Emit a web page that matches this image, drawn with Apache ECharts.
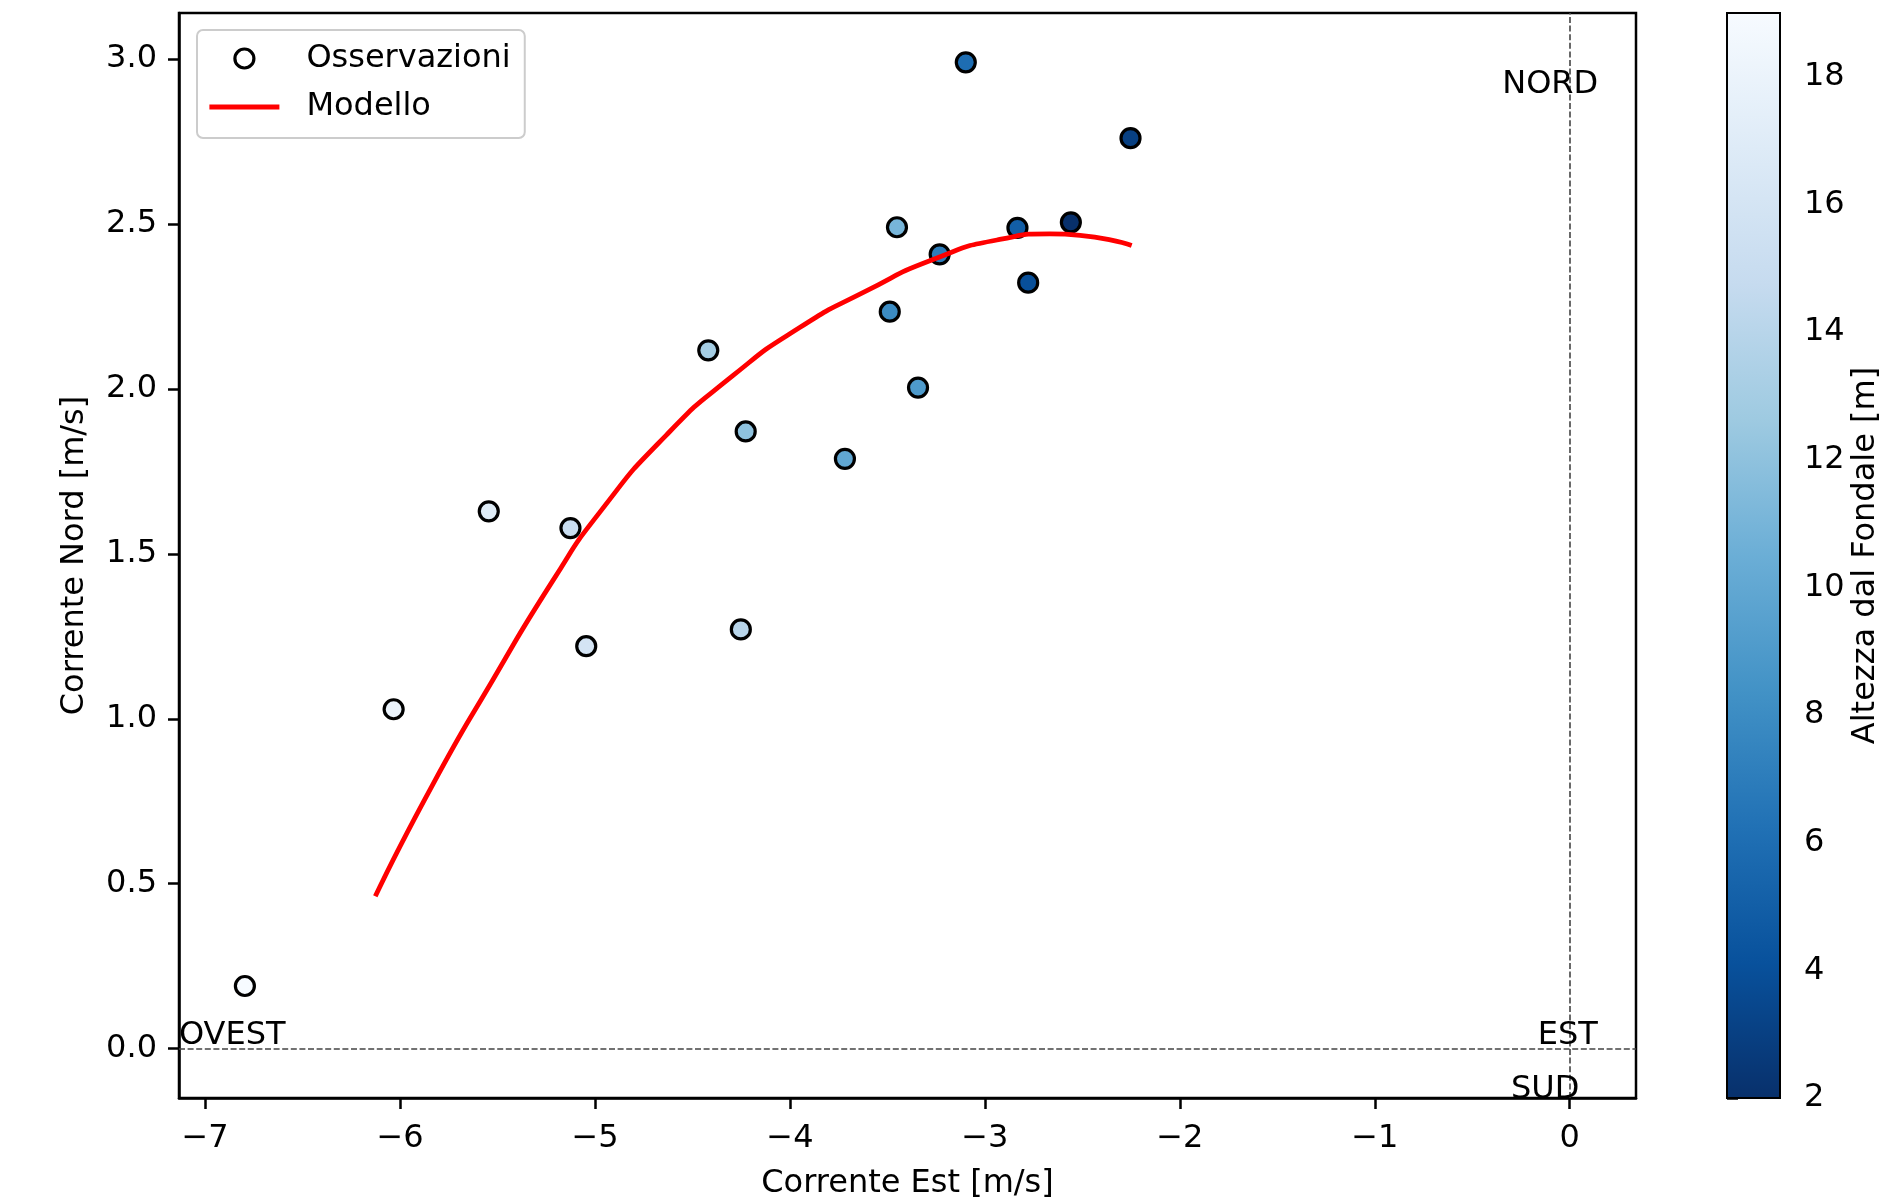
<!DOCTYPE html>
<html>
<head>
<meta charset="utf-8">
<script src="https://cdn.jsdelivr.net/npm/echarts@6/dist/echarts.min.js"></script>
<style>
html,body{margin:0;padding:0;background:#fff;}
#chart{width:1885px;height:1198px;}
</style>
</head>
<body>
<div id="chart"></div>
<script>
// ---- data ----
const obsEst    = [-6.796, -6.033, -5.545, -5.126, -5.045, -4.419, -4.227, -4.252, -3.718, -3.488, -3.451, -3.343, -3.232, -3.098, -2.833, -2.778, -2.559, -2.253];
const obsNord   = [0.190, 1.029, 1.629, 1.578, 1.220, 2.117, 1.871, 1.271, 1.788, 2.234, 2.490, 2.004, 2.408, 2.990, 2.488, 2.322, 2.505, 2.760];
const obsAltezza= [19, 18, 17, 15, 16, 13, 12, 14, 10, 8, 11, 9, 7, 6, 5, 4, 2, 3];

const modelEst  = [-6.127, -5.833, -5.525, -5.217, -4.977, -4.634, -4.293, -3.950, -3.608, -3.266, -2.924, -2.667, -2.247];
const modelNord = [0.462, 0.800, 1.117, 1.418, 1.625, 1.860, 2.040, 2.186, 2.297, 2.392, 2.453, 2.470, 2.435];

const xTicks  = [-7, -6, -5, -4, -3, -2, -1, 0];
const yTicks  = [0, 0.5, 1.0, 1.5, 2.0, 2.5, 3.0];
const cbTicks = [2, 4, 6, 8, 10, 12, 14, 16, 18];
const cbRange = [2, 19];

const labels = { x: 'Corrente Est [m/s]', y: 'Corrente Nord [m/s]', cb: 'Altezza dal Fondale [m]',
                 obs: 'Osservazioni', model: 'Modello' };
const directions = ['NORD', 'EST', 'OVEST', 'SUD'];

// ---- styling ----
const FONT = 'DejaVu Sans';
const FS = 32;
const bluesR = ['#08306b','#08519c','#2171b5','#4292c6','#6baed6','#9ecae1','#c6dbef','#deebf7','#f7fbff'];
const bluesTopDown = bluesR.slice().reverse();
const fmtMinus = v => (v < 0 ? '\u2212' + Math.abs(v) : String(v));

const chart = echarts.init(document.getElementById('chart'), null, {renderer: 'canvas'});

const dirPos = {
  NORD:  [-0.100, 2.921],
  EST:   [-0.010, 0.039],
  OVEST: [-6.861, 0.039],
  SUD:   [-0.126, -0.123]
};

const option = {
  animation: false,
  backgroundColor: '#ffffff',
  textStyle: {fontFamily: FONT, color: '#000'},
  grid: [
    {left: 179, top: 13, width: 1457, height: 1085, outerBoundsMode: 'none', containLabel: false,
     show: true, borderColor: '#000', borderWidth: 2.5, backgroundColor: 'transparent'},
    {left: 1727, top: 13, width: 53, height: 1085, outerBoundsMode: 'none', containLabel: false, show: false}
  ],
  xAxis: [
    {
      gridIndex: 0, type: 'value', min: -7.134, max: 0.340,
      name: labels.x, nameLocation: 'middle', nameGap: 70,
      nameTextStyle: {fontFamily: FONT, fontSize: FS, color: '#000'},
      axisLine: {show: true, onZero: false, lineStyle: {color: '#000', width: 2.5}},
      axisTick: {show: true, inside: false, length: 11, lineStyle: {color: '#000', width: 2.5}, customValues: xTicks},
      axisLabel: {show: true, margin: 25, fontFamily: FONT, fontSize: FS, color: '#000', customValues: xTicks, formatter: fmtMinus},
      splitLine: {show: false}
    },
    {gridIndex: 1, type: 'value', min: 0, max: 1, show: false}
  ],
  yAxis: [
    {
      gridIndex: 0, type: 'value', min: -0.1495, max: 3.1395,
      name: labels.y, nameLocation: 'middle', nameGap: 88, nameRotate: 90,
      nameTextStyle: {fontFamily: FONT, fontSize: FS, color: '#000'},
      axisLine: {show: true, onZero: false, lineStyle: {color: '#000', width: 2.5}},
      axisTick: {show: true, inside: false, length: 11, lineStyle: {color: '#000', width: 2.5}, customValues: yTicks},
      axisLabel: {show: true, margin: 22, fontFamily: FONT, fontSize: FS, color: '#000', customValues: yTicks, formatter: v => v.toFixed(1)},
      splitLine: {show: false}
    },
    {
      gridIndex: 1, type: 'value', min: cbRange[0], max: cbRange[1], position: 'right',
      name: labels.cb, nameLocation: 'middle', nameGap: 70, nameRotate: 90,
      nameTextStyle: {fontFamily: FONT, fontSize: FS, color: '#000'},
      axisLine: {show: false},
      axisTick: {show: true, inside: false, length: 11, lineStyle: {color: '#000', width: 2.5}, customValues: cbTicks},
      axisLabel: {show: true, margin: 24, fontFamily: FONT, fontSize: FS, color: '#000', customValues: cbTicks},
      splitLine: {show: false}
    }
  ],
  visualMap: {
    type: 'continuous', show: false, seriesIndex: 0, dimension: 2,
    min: cbRange[0], max: cbRange[1], inRange: {color: bluesR}
  },
  legend: {
    show: true, selectedMode: false, orient: 'vertical',
    left: 197, top: 30,
    padding: [12.5, 14, 15, 10],
    itemWidth: 70, itemHeight: 19, itemGap: 16.5,
    backgroundColor: '#ffffff', borderColor: '#cccccc', borderWidth: 2, borderRadius: 6,
    textStyle: {fontFamily: FONT, fontSize: FS, color: '#000', lineHeight: 32, padding: [0, 0, 0, 22]},
    data: [
      {name: labels.obs, icon: 'circle', itemStyle: {color: '#ffffff', borderColor: '#000', borderWidth: 3.2}},
      {name: labels.model, itemStyle: {color: 'rgba(0,0,0,0)', borderWidth: 0, opacity: 0},
       lineStyle: {color: '#ff0000', width: 4.8, opacity: 1}}
    ]
  },
  series: [
    {
      name: labels.obs, type: 'scatter', xAxisIndex: 0, yAxisIndex: 0,
      data: obsEst.map((x, i) => [x, obsNord[i], obsAltezza[i]]),
      symbol: 'circle', symbolSize: 19,
      itemStyle: {borderColor: '#000', borderWidth: 3.2, opacity: 1},
      z: 3
    },
    {
      name: labels.model, type: 'line', xAxisIndex: 0, yAxisIndex: 0,
      data: modelEst.map((x, i) => [x, modelNord[i]]),
      smooth: 0.6, symbol: 'none', showSymbol: false,
      lineStyle: {color: '#ff0000', width: 4.8},
      itemStyle: {color: '#ff0000'},
      z: 4,
      markLine: {
        silent: true, symbol: ['none', 'none'], label: {show: false},
        lineStyle: {color: '#444', width: 1.6, type: [6, 2.6]},
        data: [{xAxis: 0}, {yAxis: 0}],
        animation: false
      }
    },
    {
      name: 'direzioni', type: 'scatter', xAxisIndex: 0, yAxisIndex: 0,
      symbolSize: 0, silent: true, z: 5,
      itemStyle: {color: '#000', opacity: 1},
      data: directions.map(d => ({name: d, value: dirPos[d]})),
      label: {show: true, position: 'inside', formatter: p => p.name, fontFamily: FONT, fontSize: FS,
              color: '#000', opacity: 1, textBorderWidth: 0, textBorderColor: 'transparent', align: 'center', verticalAlign: 'middle'}
    },
    {
      name: 'colorbar', type: 'custom', xAxisIndex: 1, yAxisIndex: 1, silent: true,
      data: [[0, cbRange[0], cbRange[1]]],
      renderItem: function (params, api) {
        const tl = api.coord([0, api.value(2)]);
        const br = api.coord([1, api.value(1)]);
        return {
          type: 'rect',
          shape: {x: tl[0], y: tl[1], width: br[0] - tl[0], height: br[1] - tl[1]},
          style: {
            fill: new echarts.graphic.LinearGradient(0, 0, 0, 1,
              bluesTopDown.map((c, i) => ({offset: i / (bluesTopDown.length - 1), color: c}))),
            stroke: '#000', lineWidth: 2
          }
        };
      }
    }
  ]
};
chart.setOption(option);
</script>
</body>
</html>
